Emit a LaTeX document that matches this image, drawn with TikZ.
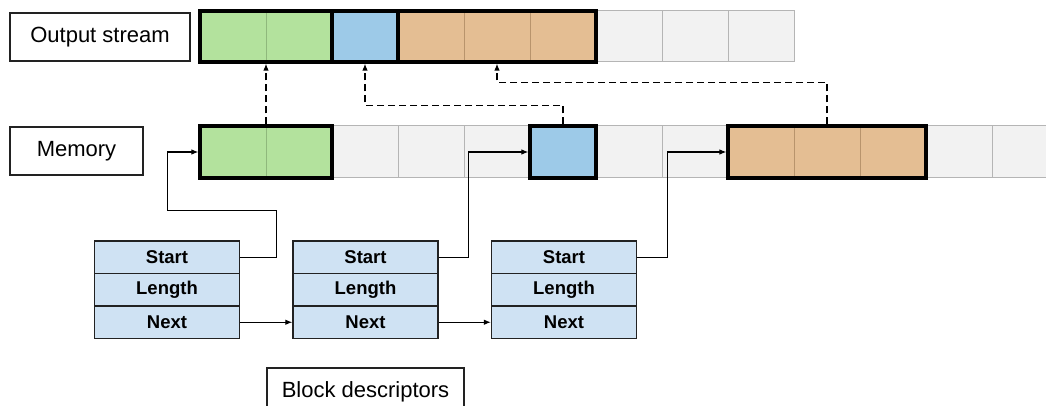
\documentclass[tikz,border=0pt]{standalone}
\usepackage{fontspec}
\setmainfont{Liberation Sans}
\usetikzlibrary{arrows.meta}
\definecolor{cgreen}{HTML}{B3E29D}
\definecolor{cgreenline}{HTML}{8FB87C}
\definecolor{cblue}{HTML}{9DCAE8}
\definecolor{corange}{HTML}{E4BE93}
\definecolor{corangeline}{HTML}{B8946C}
\definecolor{cgray}{HTML}{F2F2F2}
\definecolor{cgrayline}{HTML}{B5B5B5}
\definecolor{cdesc}{HTML}{CFE2F3}
\definecolor{cdark}{HTML}{222222}
\tikzset{
  cellgray/.style={draw=cgrayline, fill=cgray, line width=1pt, minimum width=66pt, minimum height=52pt, inner sep=0pt},
  cellgreen/.style={draw=cgreenline, fill=cgreen, line width=0.8pt, minimum width=66pt, minimum height=52pt, inner sep=0pt},
  cellblue/.style={draw=cblue, fill=cblue, line width=0.8pt, minimum width=66pt, minimum height=52pt, inner sep=0pt},
  cellorange/.style={draw=corangeline, fill=corange, line width=0.8pt, minimum width=66pt, minimum height=52pt, inner sep=0pt},
  blockframe/.style={draw=black, line width=3.2pt, minimum height=52pt, inner sep=0pt},
  labelbox/.style={draw=cdark, line width=1.1pt, minimum height=48pt, inner sep=0pt, font=\fontsize{22}{26}\selectfont},
  desc/.style={draw=cdark, fill=cdesc, line width=1.3pt, minimum width=145pt, minimum height=32.5pt, inner sep=0pt, font=\fontsize{18.5}{22}\selectfont\bfseries},
  link/.style={draw=black, line width=1.1pt, -{Latex[length=7pt,width=5.5pt]}},
  dlink/.style={draw=black, line width=1.2pt, dash pattern=on 7pt off 4pt, -{Latex[length=7pt,width=5.5pt]}},
}
\begin{document}
\begin{tikzpicture}[x=1pt, y=-1pt]
\useasboundingbox (0,0) rectangle (1046,406);
\clip (0,0) rectangle (1046,406);
\fill[white] (0,0) rectangle (1046,406);

% labels
\node[labelbox, minimum width=180pt] (lout) at (100,37) {Output stream};
\node[labelbox, minimum width=133pt] (lmem) at (76.5,151) {Memory};
\node[labelbox, minimum width=197pt] (lblk) at (365.5,392) {Block descriptors};

% output stream cells
\foreach \i/\s in {0/cellgreen,1/cellgreen,2/cellblue,3/cellorange,4/cellorange,5/cellorange,6/cellgray,7/cellgray,8/cellgray}{
  \node[\s, minimum height=51pt] (o\i) at ({233+66*\i},36.5) {};
}
% memory cells
\foreach \i/\s in {0/cellgreen,1/cellgreen,2/cellgray,3/cellgray,4/cellgray,5/cellblue,6/cellgray,7/cellgray,8/cellorange,9/cellorange,10/cellorange,11/cellgray,12/cellgray,13/cellgray}{
  \node[\s] (m\i) at ({233+66*\i},152) {};
}

% block frames
\node[blockframe, minimum width=132pt, minimum height=51pt] (og) at (266,36.5) {};
\node[blockframe, minimum width=66pt, minimum height=51pt] (ob) at (365,36.5) {};
\node[blockframe, minimum width=198pt, minimum height=51pt] (oo) at (497,36.5) {};
\node[blockframe, minimum width=132pt] (mg) at (266,152) {};
\node[blockframe, minimum width=66pt] (mb) at (563,152) {};
\node[blockframe, minimum width=198pt] (mo) at (827,152) {};

% descriptors
\foreach \k/\x in {1/167,2/365.5,3/564}{
  \node[desc] (d\k s) at (\x,257.25) {Start};
  \node[desc] (d\k l) at (\x,289.75) {Length};
  \node[desc] (d\k n) at (\x,322.25) {Next};
}

% dashed copy arrows
\draw[dlink] (mg.north) -- (og.south);
\draw[dlink] (mb.north) -- ++(0,-19) -| (ob.south);
\draw[dlink] (mo.north) -- ++(0,-42) -| (oo.south);

% start pointers
\draw[link] (d1s.east) -- ++(36,0) -- ++(0,-47) -- ++(-109,0) |- (mg.west);
\draw[link] (d2s.east) -- ++(30,0) |- (mb.west);
\draw[link] (d3s.east) -- ++(30,0) |- (mo.west);

% next pointers
\draw[link] (d1n.east) -- (d2n.west);
\draw[link] (d2n.east) -- (d3n.west);
\end{tikzpicture}
\end{document}
